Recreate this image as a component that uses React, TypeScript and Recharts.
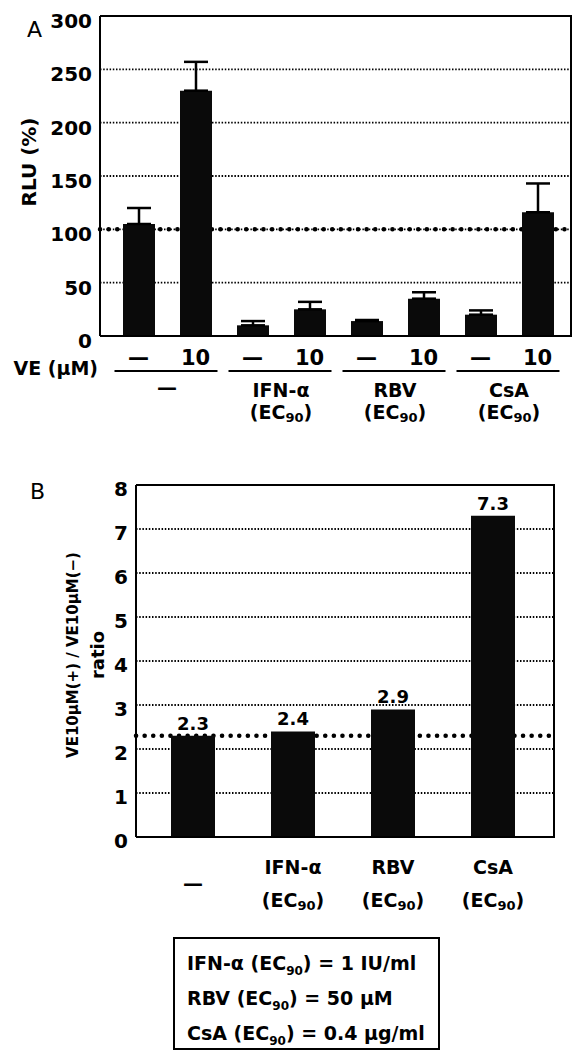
import React from 'react';
import {
  BarChart,
  Bar,
  XAxis,
  YAxis,
  CartesianGrid,
  ErrorBar,
  LabelList,
  Label
} from 'recharts';

// Panel A: luciferase activity, each treatment without / with 10 µM VE
const veDoses = ['—', '10', '—', '10', '—', '10', '—', '10'];
const rluMeans = [105, 230, 10, 25, 14, 35, 20, 116];
const rluErrors = [15, 27, 4, 7, 1, 6, 4, 27];
const rluTicks = [0, 50, 100, 150, 200, 250, 300];
const rluBaseline = 100;

// Panel B: VE(+)/VE(-) ratio per treatment
const treatments = ['—', 'IFN-α', 'RBV', 'CsA'];
const ratios = [2.3, 2.4, 2.9, 7.3];
const ratioTicks = [0, 1, 2, 3, 4, 5, 6, 7, 8];
const ratioBaseline = 2.3;

// EC90 footnote
const ec90Names = ['IFN-α', 'RBV', 'CsA'];
const ec90Doses = ['1 IU/ml', '50 μM', '0.4 μg/ml'];

const FONT = '"DejaVu Sans", sans-serif';
const W = 575;
const BAND_A = 57;

// chart boxes
const A = { top: 0, h: 450, yw: 100, xh: 114, margin: { top: 16, right: 3, left: 0, bottom: 0 } };
const B = { top: 460, h: 480, yw: 136, xh: 103, margin: { top: 25, right: 20, left: 0, bottom: 0 } };

const rluData = veDoses.map((ve, i) => ({
  id: String(i),
  ve,
  rlu: rluMeans[i],
  err: [0, rluErrors[i]]
}));

const ratioData = treatments.map((t, i) => ({ id: t, ratio: ratios[i] }));

const txt = { fontFamily: FONT, fontWeight: 'bold' as const, fill: '#000' };

const TreatmentLabel = ({ x, y, name, gap, dashY }: any) => {
  if (name === '—') {
    return (
      <text x={x} y={dashY} textAnchor="middle" dominantBaseline="central" fontSize={20} {...txt}>—</text>
    );
  }
  return (
    <g>
      <text x={x} y={y} textAnchor="middle" dominantBaseline="central" fontSize={19} {...txt}>{name}</text>
      <text x={x} y={y + gap} textAnchor="middle" dominantBaseline="central" fontSize={19} {...txt}>
        (EC<tspan fontSize={13} dy={5}>90</tspan><tspan dy={-5}>)</tspan>
      </text>
    </g>
  );
};

const DoseTick = (props: any) => {
  const { x, y, payload } = props;
  const i = payload.index;
  const mid = x + BAND_A / 2;
  return (
    <g>
      <text x={x} y={y + 14} textAnchor="middle" dominantBaseline="central" fontSize={21} {...txt}>
        {veDoses[i]}
      </text>
      {i === 0 && (
        <text x={98} y={y + 24} textAnchor="end" dominantBaseline="central" fontSize={19} {...txt}>VE (μM)</text>
      )}
      {i % 2 === 0 && (
        <>
          <line x1={x - 24} x2={x + BAND_A + 22} y1={y + 27} y2={y + 27} stroke="#000" strokeWidth={2} />
          <TreatmentLabel x={mid} y={y + 46} gap={22} dashY={y + 43} name={treatments[i / 2]} />
        </>
      )}
    </g>
  );
};

const RatioTick = (props: any) => {
  const { x, y, payload } = props;
  return <TreatmentLabel x={x} y={y + 22} gap={33} dashY={y + 38} name={treatments[payload.index]} />;
};

const YTick = (props: any) => {
  const { x, y, payload, dy } = props;
  return (
    <text x={x} y={y + dy} textAnchor="end" dominantBaseline="central" fontSize={20} {...txt}>
      {payload.value}
    </text>
  );
};

const RluTitle = () => (
  <text x={29} y={162} transform="rotate(-90 29 162)" textAnchor="middle" dominantBaseline="central" fontSize={20} {...txt}>
    RLU (%)
  </text>
);

const RatioTitle = () => (
  <g>
    <text x={73} y={195} transform="rotate(-90 73 195)" textAnchor="middle" dominantBaseline="central" fontSize={15} {...txt}>
      VE10μM(+) / VE10μM(−)
    </text>
    <text x={97} y={195} transform="rotate(-90 97 195)" textAnchor="middle" dominantBaseline="central" fontSize={18} {...txt}>
      ratio
    </text>
  </g>
);

// top and right edges of a plot box, laid over the chart
const Frame = ({ box }: any) => (
  <div
    style={{
      position: 'absolute',
      left: box.yw,
      top: box.top + box.margin.top - 1,
      width: W - box.margin.right - box.yw,
      height: box.h - box.xh - box.margin.top + 1,
      borderTop: '2px solid #000',
      borderRight: '2px solid #000',
      boxSizing: 'border-box',
      pointerEvents: 'none'
    }}
  />
);

const dotGrid = { stroke: '#000', strokeWidth: 1.8, strokeDasharray: '1.5 1.7' };
const bigDots = { stroke: '#000', strokeWidth: 4.5, strokeDasharray: '0.1 8.5', strokeLinecap: 'round' as const };
const solid = { stroke: '#000', strokeWidth: 2 };

export default function App() {
  return (
    <div style={{ position: 'absolute', left: 0, top: 0, width: W, height: 1050, background: '#fff', fontFamily: FONT }}>
      <div style={{ position: 'absolute', left: 27, top: 17, fontSize: 22, fontFamily: FONT }}>A</div>
      <div style={{ position: 'absolute', left: 0, top: A.top }}>
        <BarChart width={W} height={A.h} data={rluData} margin={A.margin}>
          <CartesianGrid vertical={false} {...dotGrid} />
          {/* 100 % baseline, kept as a grid line so it sits behind the bars */}
          <CartesianGrid vertical={false} horizontalValues={[rluBaseline]} {...bigDots} />
          <XAxis
            dataKey="id"
            interval={0}
            height={A.xh}
            padding={{ left: 10, right: 6 }}
            tickLine={false}
            axisLine={solid}
            tick={<DoseTick />}
          />
          <YAxis
            domain={[0, 300]}
            ticks={rluTicks}
            width={A.yw}
            tickLine={false}
            axisLine={solid}
            tick={<YTick dy={5} />}
            label={<Label content={RluTitle} />}
          />
          <Bar dataKey="rlu" fill="#0a0a0a" barSize={32} isAnimationActive={false}>
            <ErrorBar dataKey="err" direction="y" width={12} stroke="#000" strokeWidth={2.5} />
          </Bar>
        </BarChart>
      </div>
      <Frame box={A} />

      <div style={{ position: 'absolute', left: 30, top: 479, fontSize: 22, fontFamily: FONT }}>B</div>
      <div style={{ position: 'absolute', left: 0, top: B.top }}>
        <BarChart width={W} height={B.h} data={ratioData} margin={B.margin}>
          <CartesianGrid vertical={false} {...dotGrid} />
          <CartesianGrid vertical={false} horizontalValues={[ratioBaseline]} {...bigDots} />
          <XAxis
            dataKey="id"
            interval={0}
            height={B.xh}
            padding={{ left: 7, right: 12 }}
            tickLine={false}
            axisLine={solid}
            tick={<RatioTick />}
          />
          <YAxis
            domain={[0, 8]}
            ticks={ratioTicks}
            width={B.yw}
            tickLine={false}
            axisLine={solid}
            tick={<YTick dy={4} />}
            label={<Label content={RatioTitle} />}
          />
          <Bar dataKey="ratio" fill="#0a0a0a" barSize={44} isAnimationActive={false}>
            <LabelList dataKey="ratio" position="top" offset={6} fontSize={18} fontFamily={FONT} fontWeight="bold" fill="#000" />
          </Bar>
        </BarChart>
      </div>
      <Frame box={B} />

      <div
        style={{
          position: 'absolute',
          left: 173,
          top: 937,
          width: 263,
          height: 109,
          border: '2px solid #000',
          fontSize: 19,
          fontWeight: 'bold',
          lineHeight: '22px'
        }}
      >
        {ec90Names.map((n, i) => (
          <div key={n} style={{ position: 'absolute', left: 12, top: 13 + i * 35, whiteSpace: 'nowrap' }}>
            {n} (EC<sub style={{ fontSize: 12 }}>90</sub>) = {ec90Doses[i]}
          </div>
        ))}
      </div>
    </div>
  );
}
